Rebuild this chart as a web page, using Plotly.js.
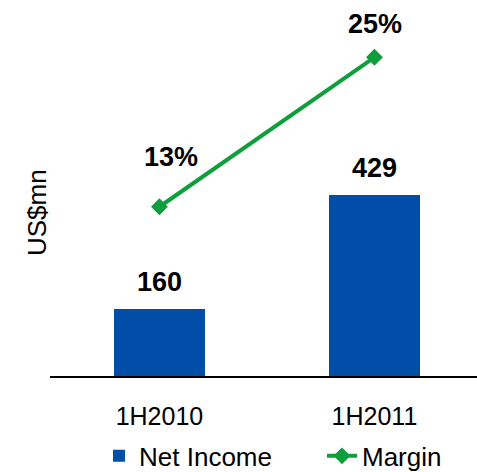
<!DOCTYPE html>
<html>
<head>
<meta charset="utf-8">
<script src="https://cdn.plot.ly/plotly-3.0.1.min.js"></script>
<style>html,body{margin:0;padding:0;background:#fff;}#chart{width:477px;height:472px;}</style>
</head>
<body>
<div id="chart"></div>
<script>
const categories = ["1H2010", "1H2011"];
const netIncome = [160, 429];
const margin = [13, 25];
const netIncomeLabels = ["160", "429"];
const marginLabels = ["13%", "25%"];

const BLUE = "#004EA8";
const GREEN = "#0F9E3C";
const FONT = "Liberation Sans, Arial, sans-serif";

const traces = [
  {
    type: "bar", name: "Net Income", x: categories, y: netIncome,
    marker: {color: BLUE}, width: 0.42, hoverinfo: "skip", legend: "legend"
  },
  {
    type: "scatter", mode: "lines+markers", name: "Margin", x: categories, y: margin,
    yaxis: "y2", legend: "legend2",
    line: {color: GREEN, width: 4},
    marker: {symbol: "diamond", size: 13, color: GREEN}, hoverinfo: "skip"
  }
];

const annotations = [];
netIncome.forEach((v, i) => {
  annotations.push({
    x: categories[i], y: v, xref: "x", yref: "y", text: "<b>" + netIncomeLabels[i] + "</b>",
    showarrow: false, yanchor: "middle", yshift: 27,
    font: {family: FONT, size: 27, color: "#000"}
  });
});
const marginShift = [[12, 50], [1, 33]];
margin.forEach((v, i) => {
  annotations.push({
    x: categories[i], y: v, xref: "x", yref: "y2", text: "<b>" + marginLabels[i] + "</b>",
    showarrow: false, yanchor: "middle", xshift: marginShift[i][0], yshift: marginShift[i][1],
    font: {family: FONT, size: 27, color: "#000"}
  });
});
annotations.push({
  text: "US$mn", xref: "paper", yref: "paper", x: -0.0304, y: 0.4335,
  xanchor: "center", yanchor: "middle", textangle: -90, showarrow: false,
  font: {family: FONT, size: 26, color: "#000"}
});

const legendBase = {
  orientation: "h", xref: "paper", xanchor: "left",
  yref: "container", y: 0.034, yanchor: "middle",
  font: {family: FONT, size: 26, color: "#000"}, bgcolor: "rgba(0,0,0,0)"
};

const layout = {
  width: 477, height: 472,
  margin: {l: 50, r: 0, t: 0, b: 96, pad: 0, autoexpand: false},
  paper_bgcolor: "#fff", plot_bgcolor: "#fff",
  font: {family: FONT, size: 25, color: "#000"},
  showlegend: true,
  legend: Object.assign({}, legendBase, {x: 0.1148}),
  legend2: Object.assign({}, legendBase, {x: 0.637}),
  xaxis: {
    type: "category", range: [-0.509, 1.477],
    showline: true, linecolor: "#000", linewidth: 1.5,
    showgrid: false, zeroline: false, ticks: "", ticklabelstandoff: 17,
    tickfont: {family: FONT, size: 25, color: "#000"}
  },
  yaxis: {
    range: [0, 893], showgrid: false, zeroline: false, showline: false,
    showticklabels: false, ticks: ""
  },
  yaxis2: {
    overlaying: "y", side: "right", range: [-0.59, 29.6],
    showgrid: false, zeroline: false, showline: false, showticklabels: false, ticks: ""
  },
  annotations: annotations,
  bargap: 0
};

Plotly.newPlot("chart", traces, layout, {staticPlot: true, displayModeBar: false});
</script>
</body>
</html>
